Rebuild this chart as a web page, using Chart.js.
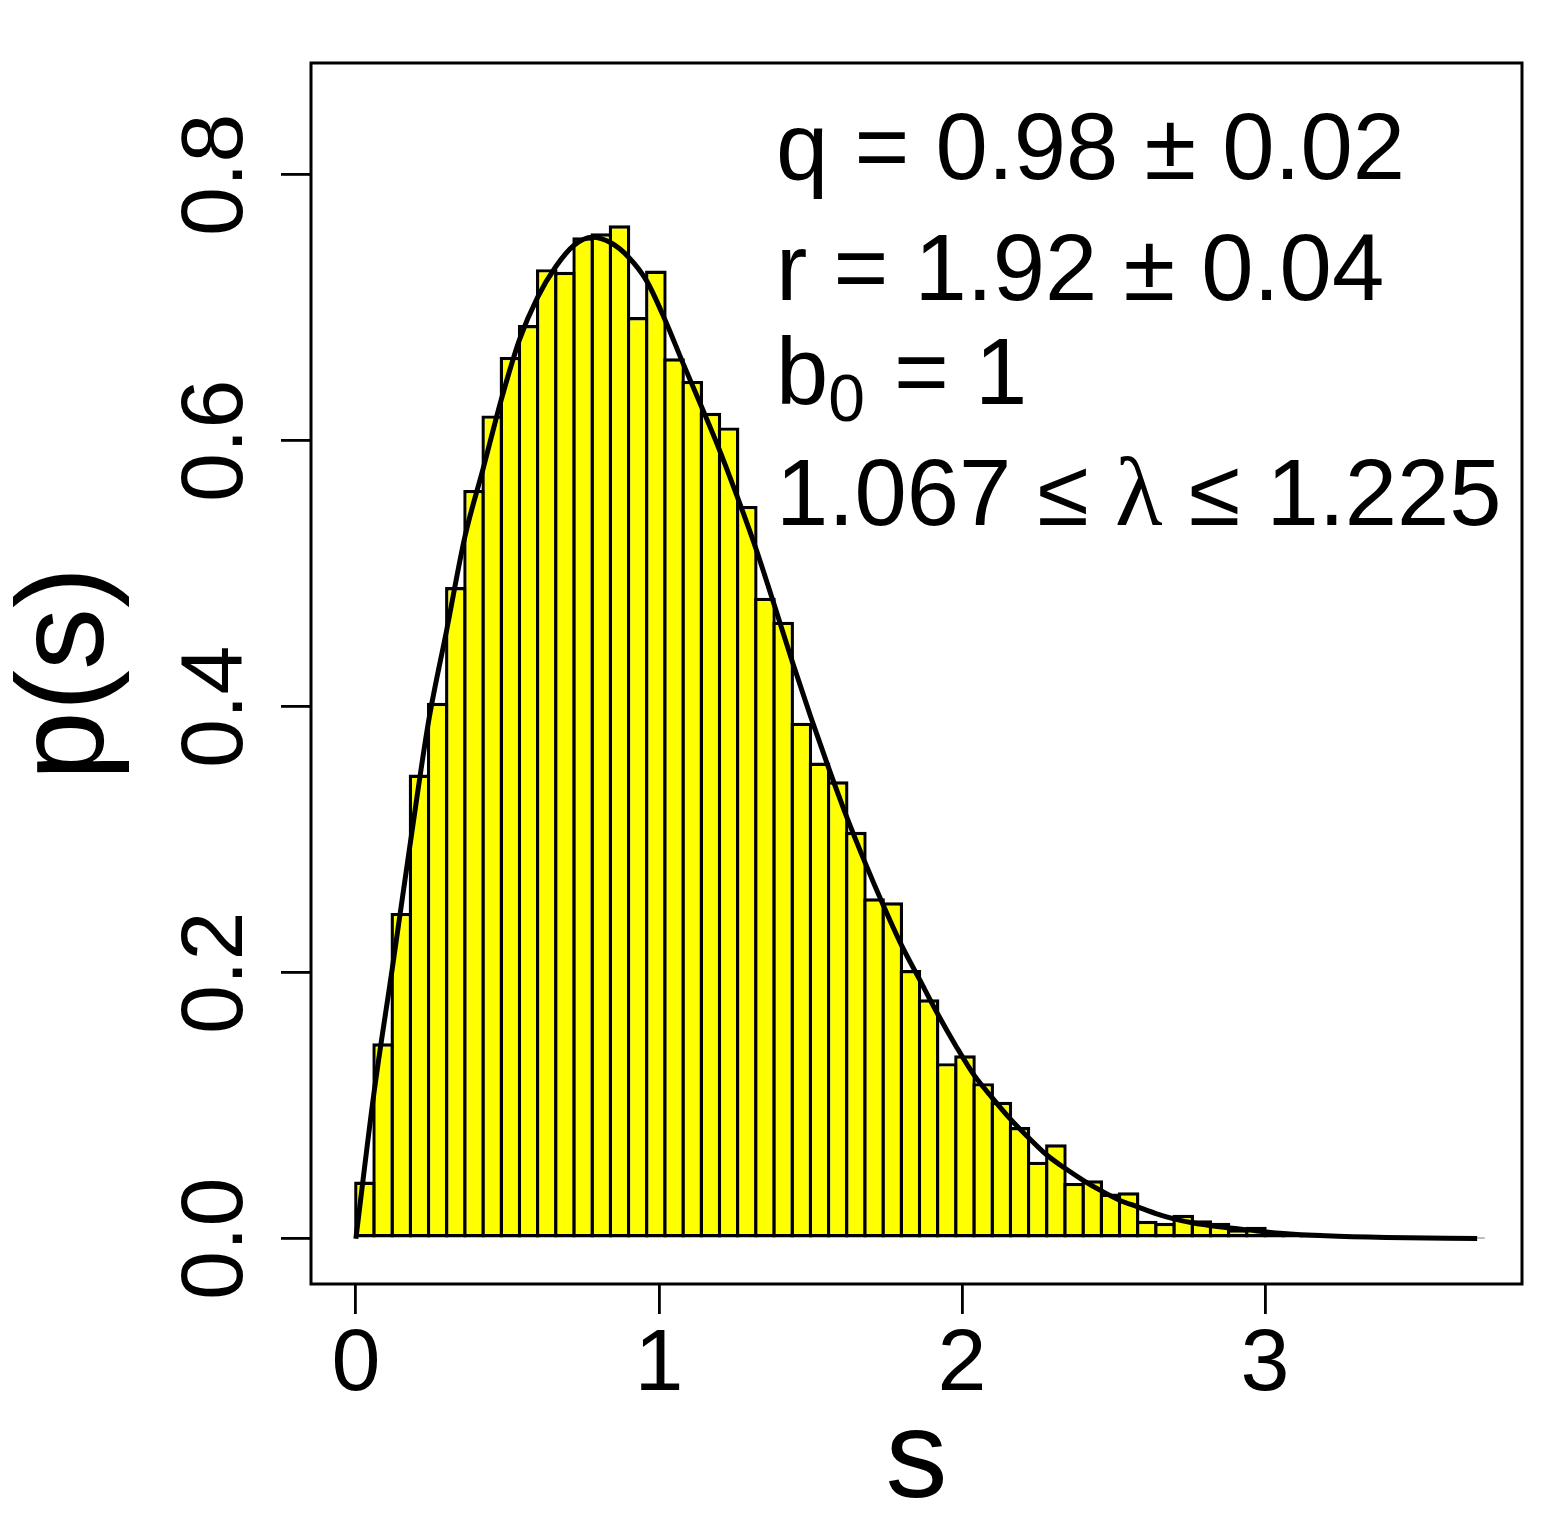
<!DOCTYPE html>
<html><head><meta charset="utf-8">
<script src="https://cdn.jsdelivr.net/npm/chart.js@4.4.1/dist/chart.umd.min.js"></script>
<style>html,body{margin:0;padding:0;background:#fff;}canvas{display:block;}</style>
</head><body>
<canvas id="c" width="1548" height="1533"></canvas>
<script>
// ---------- data ----------
const binWidth = 0.06;            // histogram bin width (bins start at s = 0)
const densities = [
  0.043, 0.147, 0.245, 0.349, 0.403, 0.490, 0.563, 0.619, 0.663, 0.687,
  0.729, 0.727, 0.753, 0.756, 0.762, 0.693, 0.728, 0.662, 0.645, 0.621,
  0.610, 0.551, 0.482, 0.464, 0.388, 0.358, 0.344, 0.306, 0.256, 0.253,
  0.202, 0.180, 0.132, 0.138, 0.117, 0.103, 0.084, 0.058, 0.071, 0.042,
  0.044, 0.034, 0.035, 0.0135, 0.012, 0.018, 0.014, 0.012, 0.007, 0.009,
  0.0045, 0.004, 0.0045, 0.003, 0.0023, 0.0015, 0.001, 0.0008, 0.0006, 0.0004,
  0.0003, 0.0002
];
const curveS = [0, 0.06, 0.12, 0.18, 0.24, 0.30, 0.36, 0.42, 0.48, 0.54, 0.60, 0.66, 0.72, 0.78,
  0.84, 0.90, 0.96, 1.02, 1.08, 1.14, 1.20, 1.26, 1.32, 1.38, 1.44, 1.50, 1.56, 1.62, 1.68,
  1.74, 1.80, 1.86, 1.92, 1.98, 2.04, 2.10, 2.16, 2.22, 2.28, 2.34, 2.40, 2.46, 2.52, 2.58,
  2.64, 2.70, 2.76, 2.85, 2.95, 3.05, 3.20, 3.40, 3.70];
const curveP = [0, 0.110, 0.203, 0.298, 0.389, 0.458, 0.528, 0.579, 0.631, 0.676, 0.708, 0.731, 0.747, 0.753,
  0.749, 0.738, 0.720, 0.691, 0.658, 0.626, 0.593, 0.557, 0.519, 0.477, 0.434, 0.393, 0.354, 0.317, 0.283,
  0.251, 0.221, 0.195, 0.169, 0.145, 0.123, 0.106, 0.090, 0.076, 0.063, 0.053, 0.044, 0.036, 0.029, 0.024,
  0.019, 0.015, 0.012, 0.009, 0.0065, 0.0042, 0.0022, 0.0009, 0.0002];
const xTickValues = [0, 1, 2, 3];
const xTickLabels = ['0', '1', '2', '3'];
const yTickValues = [0, 0.2, 0.4, 0.6, 0.8];
const yTickLabels = ['0.0', '0.2', '0.4', '0.6', '0.8'];
const xRange = [-0.148, 3.848];
const yRange = [-0.034, 0.884];
const xTitle = 's';
const yTitle = 'p(s)';
const annotLine1 = 'q = 0.98 ± 0.02';
const annotLine2 = 'r = 1.92 ± 0.04';
const annotB = ['b', '0', ' = 1'];
const annotLambda = ['1.067 ≤ ', 'λ', ' ≤ 1.225'];

// ---------- chart ----------
const SANS = '"Liberation Sans", Arial, Helvetica, sans-serif';
const SERIF = '"Liberation Serif", "Times New Roman", serif';

const barData = densities.map((d, i) => ({ x: i * binWidth + binWidth / 2, y: d }));
const lineData = curveS.map((s, i) => ({ x: s, y: curveP[i] }));

const textPlugin = {
  id: 'rText',
  afterDraw(chart) {
    const { ctx, chartArea: a, scales: { x, y } } = chart;
    ctx.save();
    ctx.strokeStyle = '#000';
    ctx.lineWidth = 3;
    ctx.strokeRect(a.left, a.top, a.right - a.left, a.bottom - a.top);
    ctx.fillStyle = '#000';
    ctx.textBaseline = 'alphabetic';
    ctx.textAlign = 'center';
    ctx.font = '88px ' + SANS;
    xTickValues.forEach((v, i) => ctx.fillText(xTickLabels[i], x.getPixelForValue(v), 1390));
    yTickValues.forEach((v, i) => {
      ctx.save();
      ctx.translate(242, y.getPixelForValue(v));
      ctx.rotate(-Math.PI / 2);
      ctx.fillText(yTickLabels[i], 0, 0);
      ctx.restore();
    });
    ctx.font = '124px ' + SANS;
    ctx.fillText(xTitle, (a.left + a.right) / 2, 1497);
    ctx.save();
    ctx.translate(103, (a.top + a.bottom) / 2);
    ctx.rotate(-Math.PI / 2);
    ctx.fillText(yTitle, 0, 0);
    ctx.restore();

    ctx.textAlign = 'left';
    ctx.font = '94px ' + SANS;
    ctx.fillText(annotLine1, 776, 179);
    ctx.fillText(annotLine2, 776, 300);
    let px = 776;
    ctx.fillText(annotB[0], px, 404);
    px += ctx.measureText(annotB[0]).width;
    ctx.font = '66px ' + SANS;
    ctx.fillText(annotB[1], px, 421);
    px += ctx.measureText(annotB[1]).width + 3;
    ctx.font = '94px ' + SANS;
    ctx.fillText(annotB[2], px, 404);
    px = 776;
    const fonts = ['94px ' + SANS, '98px ' + SERIF, '94px ' + SANS];
    annotLambda.forEach((t, i) => {
      ctx.font = fonts[i];
      ctx.fillText(t, px, 525);
      px += ctx.measureText(t).width;
    });
    ctx.restore();
  }
};

new Chart(document.getElementById('c'), {
  type: 'bar',
  data: {
    datasets: [
      {
        type: 'line',
        data: lineData,
        borderColor: '#000',
        borderWidth: 5,
        pointRadius: 0,
        fill: false,
        cubicInterpolationMode: 'monotone',
        order: 0
      },
      {
        type: 'bar',
        data: barData,
        backgroundColor: '#ffff00',
        borderColor: '#000',
        borderWidth: 3.4,
        borderSkipped: false,
        barPercentage: 1.187,
        categoryPercentage: 1,
        order: 1
      }
    ]
  },
  plugins: [textPlugin],
  options: {
    responsive: false,
    animation: false,
    devicePixelRatio: 1,
    layout: { padding: { left: 281, right: 26, top: 63, bottom: 219 } },
    plugins: { legend: { display: false }, tooltip: { enabled: false } },
    scales: {
      x: {
        type: 'linear',
        min: xRange[0], max: xRange[1],
        offset: false,
        afterBuildTicks: s => { s.ticks = xTickValues.map(v => ({ value: v })); },
        ticks: { display: false },
        grid: { offset: false, drawOnChartArea: false, drawTicks: true, tickLength: 30, color: '#000', lineWidth: 2.8 },
        border: { display: false }
      },
      y: {
        type: 'linear',
        min: yRange[0], max: yRange[1],
        afterBuildTicks: s => { s.ticks = yTickValues.map(v => ({ value: v })); },
        ticks: { display: false },
        grid: { drawOnChartArea: false, drawTicks: true, tickLength: 30, color: '#000', lineWidth: 2.8 },
        border: { display: false }
      }
    }
  }
});
</script>
</body></html>
